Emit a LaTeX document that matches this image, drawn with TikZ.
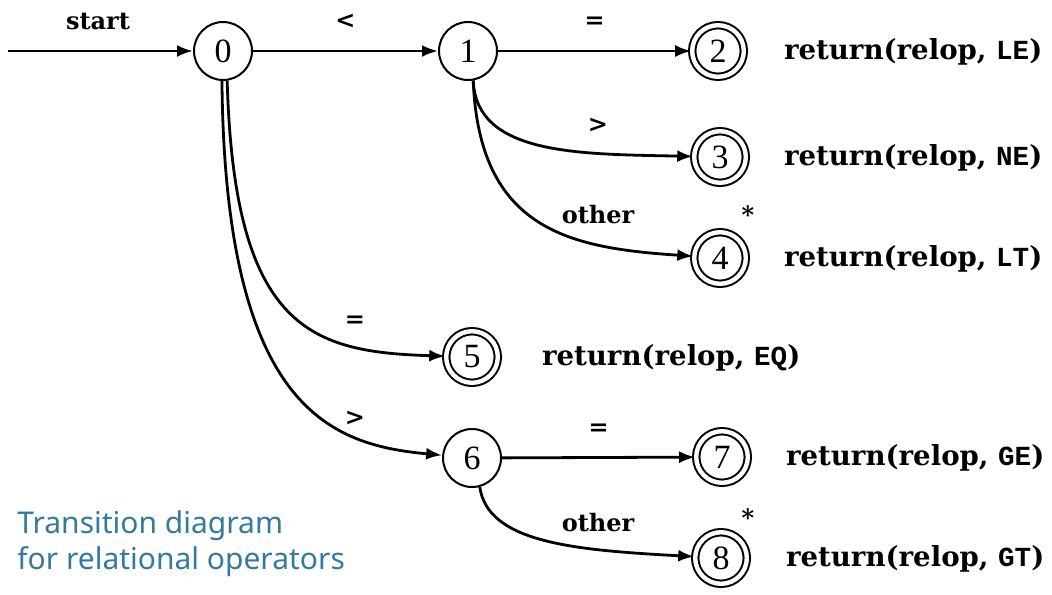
\documentclass[tikz,border=0pt]{standalone}
\usepackage{fontspec}
\setmainfont{Liberation Serif}
\setmonofont{Liberation Mono}
\setsansfont{Noto Sans}
\newfontfamily\scanfont{DejaVu Serif}
\usetikzlibrary{arrows.meta}
\definecolor{capblue}{RGB}{52,122,160}
\newcommand{\relop}[1]{return(relop, {\ttfamily\bfseries #1})}
\tikzset{
  state/.style={circle,draw,line width=1pt,minimum size=29pt,inner sep=0pt,
    font=\fontsize{17}{19}\selectfont},
  accept/.style={state,double,double distance=2.2pt,minimum size=25.8pt},
  trans/.style={line width=1.4pt,-{Latex[length=8pt,width=6pt]}},
  lbl/.style={font=\scanfont\bfseries\fontsize{12}{14}\selectfont},
  ret/.style={anchor=base west,font=\scanfont\bfseries\fontsize{13.8}{15}\selectfont},
}
\begin{document}
\begin{tikzpicture}[x=0.5pt,y=-0.5pt]
  \useasboundingbox (0,0) rectangle (1052,594);
  % states
  \node[state]  (n0) at (223,51) {0};
  \node[state]  (n1) at (468,51) {1};
  \node[accept] (n2) at (718,51) {2};
  \node[accept] (n3) at (720,157) {3};
  \node[accept] (n4) at (720,258) {4};
  \node[accept] (n5) at (472,357) {5};
  \node[state]  (n6) at (472,458) {6};
  \node[accept] (n7) at (722,457) {7};
  \node[accept] (n8) at (721,558) {8};
  % start
  \coordinate (s) at (8,51);
  \node[lbl] (start) at (98,22) {start};
  \draw[trans] (s) -- (n0);
  % transitions
  \draw[trans] (n0) -- node[lbl,above=7pt] (l01) {<} (n1);
  \draw[trans] (n1) -- node[lbl,above=7pt] (l12) {=} (n2);
  \draw[trans] (n1.-80) .. controls +(3,75) and +(-140,-3) .. (n3);
  \draw[trans] (n1.-80) .. controls +(6,150) and +(-150,-10) .. (n4);
  \draw[trans] (n0.-82) .. controls +(7,250) and +(-160,-5) .. (n5);
  \draw[trans] (n0.-92) .. controls +(3,330) and +(-140,-13) .. (n6);
  \draw[trans] (n6) -- node[lbl,above=7pt] (l67) {=} (n7);
  \draw[trans] (n6.-75) .. controls +(8,55) and +(-150,-8) .. (n8);
  \node[lbl] (l13) at (598,125) {>};
  \node[lbl] (l14) at (598,215) {other};
  \node[lbl] (l05) at (355,322) {=};
  \node[lbl] (l06) at (355,418) {>};
  \node[lbl] (l68) at (598,523) {other};
  \node[lbl] (st4) at (748,215) {*};
  \node[lbl] (st8) at (748,518) {*};
  % actions
  \node[ret] (r2) at (777,59) {\relop{LE}};
  \node[ret] (r3) at (777,165) {\relop{NE}};
  \node[ret] (r4) at (777,266) {\relop{LT}};
  \node[ret] (r5) at (535,365) {\relop{EQ}};
  \node[ret] (r7) at (779,465) {\relop{GE}};
  \node[ret] (r8) at (779,566) {\relop{GT}};
  % caption
  \node[anchor=north west,align=left,text=capblue,inner sep=0pt,
    font=\sffamily\fontsize{15}{18}\selectfont] (cap) at (17,510)
    {Transition diagram\\for relational operators};
\end{tikzpicture}
\end{document}
